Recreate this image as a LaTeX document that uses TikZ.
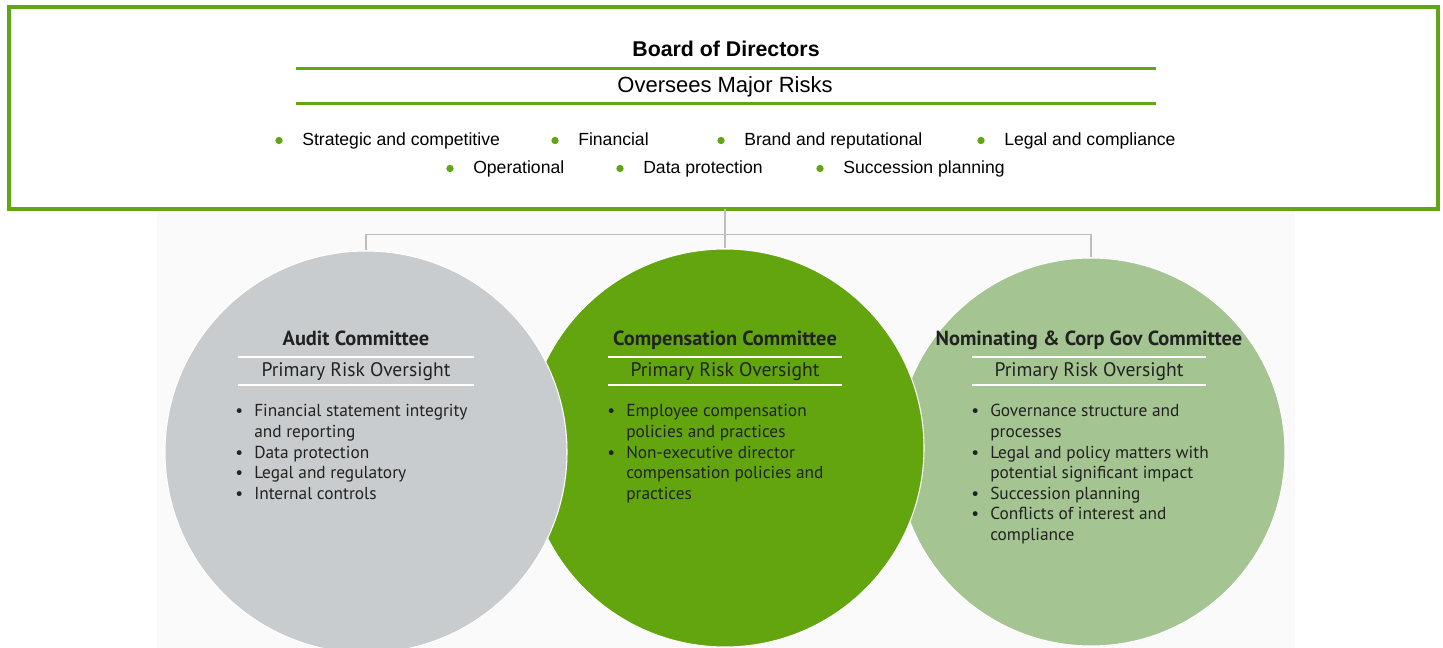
\documentclass[tikz,border=0pt]{standalone}
\usepackage{fontspec}
\setmainfont{Liberation Sans}
\newfontfamily\circfont{PT Sans}
\usetikzlibrary{shapes}
\definecolor{bod_green}{RGB}{99,166,21}
\definecolor{audit_gray}{RGB}{201,204,206}
\definecolor{comp_green}{RGB}{98,165,14}
\definecolor{nom_green}{RGB}{164,196,146}
\definecolor{conn_gray}{RGB}{190,190,190}
\definecolor{back_gray}{RGB}{250,250,250}
\definecolor{txt_dark}{RGB}{34,34,34}
\tikzstyle{bodbox}=[rectangle,draw=bod_green,line width=3pt,fill=white,
  inner sep=0pt,outer sep=0pt,minimum width=1071.75pt,minimum height=151.5pt]
\tikzstyle{gbar}=[draw=bod_green,line width=2.25pt]
\tikzstyle{wbar}=[draw=white,line width=1.1pt]
\tikzstyle{conn}=[draw=conn_gray,line width=1.1pt]
\tikzstyle{risk}=[anchor=base west,inner sep=0pt,font=\fontsize{13.2}{15}\selectfont]
\tikzstyle{gdot}=[circle,fill=bod_green,inner sep=0pt,minimum size=5.5pt]
\tikzstyle{comm}=[circle,draw=white,line width=0.8pt,inner sep=0pt]
\tikzstyle{ctitle}=[anchor=base,inner sep=0pt,text=txt_dark,
  font=\circfont\bfseries\fontsize{15.3}{18}\selectfont]
\tikzstyle{csub}=[anchor=base,inner sep=0pt,text=txt_dark,
  font=\circfont\fontsize{14.7}{17}\selectfont]
\tikzstyle{clist}=[anchor=base west,inner sep=0pt,text=txt_dark,
  font=\circfont\fontsize{13}{15.4}\selectfont]
\newcommand{\cb}{\makebox[14.25pt][l]{\textbullet}}

\begin{document}
\begin{tikzpicture}[x=0.75pt,y=-0.75pt]
    \useasboundingbox (0,0) rectangle (1443,648);
    \fill [back_gray] (157,211) rectangle (1295,648);
    % board of directors
    \node [style=bodbox] (board) at (723.5,108) {};
    \node [anchor=base,inner sep=0pt,font=\bfseries\fontsize{16}{19}\selectfont] (bodtitle) at (726,57) {Board of Directors};
    \draw [style=gbar] (296,68.5) -- (1156,68.5);
    \node [anchor=base,inner sep=0pt,font=\fontsize{16.5}{19}\selectfont] (bodsub) at (725,92.5) {Oversees Major Risks};
    \draw [style=gbar] (296,104) -- (1156,104);
    \foreach \x/\y/\t [count=\i] in {302/146/Strategic and competitive, 578/146/Financial,
        744/146/Brand and reputational, 1004/146/Legal and compliance,
        473/174/Operational, 643/174/Data protection, 843/174/Succession planning} {
      \node [style=gdot] (d\i) at (\x-23,\y-5.5) {};
      \node [style=risk] (r\i) at (\x,\y) {\t};
    }
    % committees
    \node [style=comm,fill=nom_green,minimum size=291pt] (nom) at (1091,452) {};
    \node [style=comm,fill=comp_green,minimum size=298.5pt] (comp) at (725,448) {};
    \node [style=comm,fill=audit_gray,minimum size=301.5pt] (audit) at (366,452) {};
    \coordinate (hub) at (725,234.5);
    \draw [style=conn] (hub |- board.south) -- (hub);
    \draw [style=conn] (audit.north) |- (hub) -| (nom.north);
    \draw [style=conn] (hub) -- (comp.north);
    % audit
    \node [style=ctitle] (audtitle) at (356,346) {Audit Committee};
    \draw [style=wbar] (238,357) -- (474,357);
    \node [style=csub] (audsub) at (356,377) {Primary Risk Oversight};
    \draw [style=wbar] (238,385) -- (474,385);
    \node [style=clist] (audlist) at (235,417) {\begin{tabular}[t]{@{}l@{}l@{}}
      \cb & Financial statement integrity\\ & and reporting\\
      \cb & Data protection\\ \cb & Legal and regulatory\\
      \cb & Internal controls\end{tabular}};
    % compensation
    \node [style=ctitle] (comptitle) at (725,346) {Compensation Committee};
    \draw [style=wbar] (608,357) -- (842,357);
    \node [style=csub] (compsub) at (725,377) {Primary Risk Oversight};
    \draw [style=wbar] (608,385) -- (842,385);
    \node [style=clist] (complist) at (607,417) {\begin{tabular}[t]{@{}l@{}l@{}}
      \cb & Employee compensation\\ & policies and practices\\
      \cb & Non-executive director\\ & compensation policies and\\
      & practices\end{tabular}};
    % nominating
    \node [style=ctitle] (nomtitle) at (1089,346) {Nominating \& Corp Gov Committee};
    \draw [style=wbar] (972,357) -- (1206,357);
    \node [style=csub] (nomsub) at (1089,377) {Primary Risk Oversight};
    \draw [style=wbar] (972,385) -- (1206,385);
    \node [style=clist] (nomlist) at (971,417) {\begin{tabular}[t]{@{}l@{}l@{}}
      \cb & Governance structure and\\ & processes\\
      \cb & Legal and policy matters with\\ & potential significant impact\\
      \cb & Succession planning\\ \cb & Conflicts of interest and\\
      & compliance\end{tabular}};
\end{tikzpicture}
\end{document}
